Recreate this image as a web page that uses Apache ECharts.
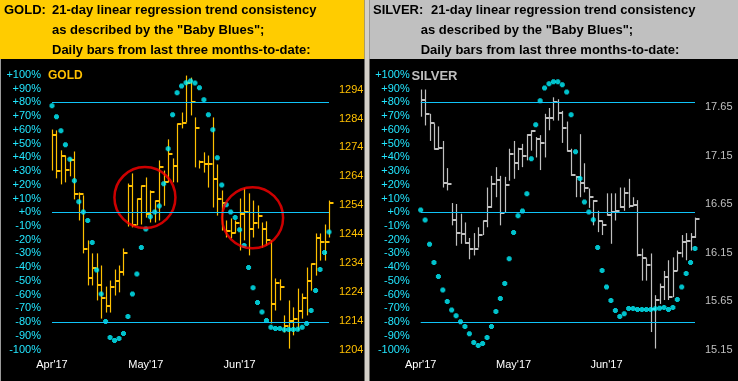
<!DOCTYPE html>
<html><head><meta charset="utf-8">
<script src="https://cdn.jsdelivr.net/npm/echarts@6/dist/echarts.min.js"></script>
<style>html,body{margin:0;padding:0;background:#000;}#c{width:738px;height:381px;}</style>
</head><body><div id="c"></div>
<script>
// ---------- data ----------
const monthLabels = ["Apr'17", "May'17", "Jun'17"];
const monthLabelIdx = [0, 21, 42];
const bandLevels = [80, 0, -80];
const goldPriceTicks = [1204, 1214, 1224, 1234, 1244, 1254, 1264, 1274, 1284, 1294];
const silverPriceTicks = [15.15, 15.65, 16.15, 16.65, 17.15, 17.65];

const goldBlues = [77.6,69.6,59.4,49.2,38.6,23.0,7.7,0.2,-6.1,-22.1,
  -42.0,-59.5,-79.6,-91.2,-93.4,-92.0,-88.3,-76.0,-59.5,-44.9,
  -25.7,-12.2,-3.2,0.2,4.6,20.8,46.3,71.0,87.0,91.9,
  94.3,95.6,94.1,90.7,82.0,71.0,60.1,39.7,19.9,5.5,
  0.2,-3.9,-12.7,-24.3,-40.3,-55.1,-65.8,-72.6,-78.9,-83.7,
  -84.7,-84.7,-85.7,-85.5,-85.5,-85.2,-83.7,-81.1,-71.6,-57.1,
  -41.8,-29.4,-14.3];
const goldHigh = [1280.2,1279.9,1273.0,1271.2,1270.2,1272.6,1258.4,1257.4,1241.8,1237.3,
  1237.3,1233.1,1225.8,1227.9,1231.7,1233.1,1239.0,1261.5,1265.0,1256.3,
  1260.8,1263.6,1259.1,1255.6,1269.5,1266.0,1276.8,1270.2,1282.3,1286.1,
  1298.9,1298.2,1284.4,1269.5,1272.3,1271.2,1284.4,1268.1,1259.1,1248.7,
  1249.4,1248.7,1256.3,1259.8,1258.1,1255.6,1253.9,1248.0,1248.4,1241.8,
  1228.6,1228.3,1215.8,1221.0,1218.6,1225.1,1223.4,1232.4,1233.8,1244.2,
  1244.2,1247.3,1255.6];
const goldLow = [1266.0,1263.3,1261.2,1261.9,1264.0,1256.0,1248.7,1237.3,1226.2,1226.2,
  1221.0,1214.7,1216.8,1216.8,1222.7,1223.8,1229.6,1246.6,1246.3,1247.0,
  1247.3,1249.7,1248.0,1248.0,1248.7,1253.8,1261.9,1261.9,1261.9,1280.6,
  1282.7,1285.1,1267.1,1266.7,1265.3,1260.1,1253.2,1250.4,1245.2,1242.8,
  1242.5,1244.2,1238.3,1241.8,1236.6,1242.8,1245.9,1239.3,1240.0,1213.0,
  1217.5,1221.0,1209.9,1204.3,1208.9,1210.6,1214.7,1215.8,1224.4,1229.6,
  1234.8,1234.8,1242.8];
const goldClose = [1278.2,1265.7,1270.9,1266.3,1269.5,1257.7,1257.7,1238.7,1228.6,1232.1,
  1226.2,1221.7,1219.2,1225.5,1227.9,1230.7,1237.3,1260.8,1247.3,1256.0,
  1260.5,1251.1,1258.7,1255.3,1267.1,1261.9,1271.9,1267.4,1282.0,1282.3,
  1296.5,1289.6,1280.6,1268.8,1268.1,1268.1,1262.9,1256.0,1254.6,1245.2,
  1244.2,1247.7,1251.1,1251.5,1245.6,1247.7,1250.1,1245.6,1241.8,1219.9,
  1226.9,1225.5,1212.0,1214.0,1214.7,1217.5,1221.7,1227.9,1233.5,1242.5,
  1241.1,1241.1,1254.6];
const goldCircles = [[20.8, 10.7], [44.9, -4.0]];

const silverBlues = [1.7,-5.6,-23.3,-36.7,-46.9,-56.6,-65.1,-71.2,-75.5,-79.8,
  -83.3,-88.6,-94.9,-97.1,-95.6,-91.3,-83.3,-72.3,-62.9,-52.0,
  -33.8,-14.8,-2.5,0.9,13.5,39.0,63.8,81.2,90.5,93.6,
  95.0,95.0,92.9,87.6,71.0,44.1,24.5,7.5,0.2,-5.4,
  -25.7,-42.5,-54.4,-64.3,-71.6,-76.0,-74.0,-70.2,-70.2,-70.9,
  -70.9,-70.9,-70.9,-70.4,-69.9,-69.4,-70.9,-69.4,-63.6,-54.4,
  -44.7,-36.7,-26.5];
const silverHigh = [17.83,17.83,17.58,17.48,17.45,17.30,17.02,16.66,16.65,16.55,
  16.46,16.30,16.35,16.41,16.48,16.82,16.94,17.03,16.94,16.93,
  17.22,17.30,17.23,17.27,17.37,17.41,17.34,17.36,17.58,17.64,
  17.75,17.73,17.61,17.50,17.22,16.94,17.37,17.07,16.81,16.69,
  16.58,16.48,16.76,16.76,16.76,16.82,16.82,16.91,16.72,16.69,
  16.19,16.09,16.14,15.71,15.83,15.96,16.07,16.10,16.17,16.33,
  16.35,16.35,16.51];
const silverLow = [17.55,17.46,17.30,17.21,17.21,16.82,16.79,16.43,16.22,16.24,
  16.24,16.08,16.12,16.20,16.33,16.41,16.61,16.72,16.43,16.56,
  16.89,16.91,17.00,17.03,17.10,17.20,17.13,17.00,17.13,17.41,
  17.51,17.51,17.28,17.19,16.94,16.72,16.72,16.77,16.61,16.43,
  16.36,16.33,16.53,16.24,16.48,16.61,16.58,16.61,16.63,16.11,
  15.86,15.86,15.33,15.16,15.62,15.66,15.66,15.69,15.96,16.10,
  16.07,16.17,16.30];
const silverClose = [17.72,17.58,17.48,17.22,17.23,16.87,16.86,16.49,16.35,16.34,
  16.25,16.19,16.19,16.33,16.47,16.62,16.86,16.90,16.56,16.85,
  17.17,17.07,17.22,17.15,17.36,17.40,17.32,17.28,17.54,17.54,
  17.70,17.59,17.43,17.20,16.95,16.93,16.87,16.82,16.72,16.68,
  16.47,16.43,16.54,16.57,16.58,16.62,16.76,16.63,16.64,16.12,
  16.09,16.02,15.57,15.66,15.79,15.90,15.69,15.96,16.15,16.26,
  16.27,16.31,16.50];

// ---------- chart ----------
const FONT = '"Liberation Sans", Arial, sans-serif';
const CYAN = '#00f2ff';
const LABEL_CYAN = '#22e6ff';
const LINE_BLUE = '#10c4f8';
const GOLD = '#ffc000';
const SILVER = '#c0c0c0';
const DOT = 'path://M1,0H4V1H5V4H4V5H1V4H0V1H1Z';

function pctFmt(v) { return (v > 0 ? '+' + v : (v === 0 ? '+0' : '' + v)) + '%'; }

function hlc(h, l, c) { return h.map((v, i) => [i, v, l[i], c[i]]); }

function renderHLC(params, api) {
  const x = api.value(0);
  const hi = api.coord([x, api.value(1)]);
  const lo = api.coord([x, api.value(2)]);
  const cl = api.coord([x, api.value(3)]);
  const px = Math.round(hi[0]) + 0.5;
  const cy = Math.round(cl[1]);
  const color = api.visual('color');
  return {
    type: 'group',
    children: [
      { type: 'line', shape: { x1: px, y1: hi[1], x2: px, y2: lo[1] }, style: { stroke: color, lineWidth: 1.2 } },
      { type: 'line', shape: { x1: px, y1: cy, x2: px + 4, y2: cy }, style: { stroke: color, lineWidth: 2 } }
    ]
  };
}

function xAxisFor(gi) {
  return {
    type: 'value', gridIndex: gi, min: 0, max: 62,
    axisLine: { show: false }, axisTick: { show: false }, splitLine: { show: false },
    axisLabel: {
      customValues: monthLabelIdx, margin: 10, color: '#ffffff', fontSize: 11, fontFamily: FONT,
      formatter: v => monthLabels[monthLabelIdx.indexOf(v)] || ''
    }
  };
}
function pctAxis(gi) {
  return {
    type: 'value', gridIndex: gi, position: 'left', min: -100, max: 100, interval: 10,
    axisLine: { show: false }, axisTick: { show: false }, splitLine: { show: false },
    axisLabel: { margin: 11, color: LABEL_CYAN, fontSize: 11, fontFamily: FONT, formatter: pctFmt }
  };
}
function priceAxis(gi, min, max, ticks, color, dec) {
  return {
    type: 'value', gridIndex: gi, position: 'right', min: min, max: max,
    axisLine: { show: false }, axisTick: { show: false }, splitLine: { show: false },
    axisLabel: {
      customValues: ticks, margin: 10, color: color, fontSize: 11, fontFamily: FONT,
      formatter: v => v.toFixed(dec)
    }
  };
}

const bandMark = {
  silent: true, symbol: ['none', 'none'], label: { show: false },
  lineStyle: { color: LINE_BLUE, width: 1.2, type: 'solid' },
  data: bandLevels.map(v => ({ yAxis: v }))
};

const chart = echarts.init(document.getElementById('c'), null, { renderer: 'canvas' });
chart.setOption({
  backgroundColor: '#000',
  animation: false,
  grid: [
    { left: 52, right: 409, top: 75, bottom: 31.5, outerBoundsMode: 'none' },
    { left: 420.7, right: 43, top: 75, bottom: 31.5, outerBoundsMode: 'none' }
  ],
  xAxis: [xAxisFor(0), xAxisFor(1)],
  yAxis: [
    pctAxis(0),
    priceAxis(0, 1204, 1299.1, goldPriceTicks, GOLD, 0),
    pctAxis(1),
    priceAxis(1, 15.15, 17.98, silverPriceTicks, SILVER, 2)
  ],
  graphic: [
    { type: 'rect', shape: { x: 0, y: 0, width: 364.5, height: 59 }, style: { fill: '#ffcc00' }, z: 10 },
    { type: 'rect', shape: { x: 369.5, y: 0, width: 369, height: 59 }, style: { fill: '#c0c0c0' }, z: 10 },
    { type: 'rect', shape: { x: 364.5, y: 0, width: 5, height: 381 }, style: { fill: '#d4d0c8' }, z: 10 },
    { type: 'rect', shape: { x: 0, y: 59, width: 1, height: 322 }, style: { fill: '#9a9a9a' }, z: 10 },
    { type: 'text', x: 4, y: 10, z: 11, style: { text: 'GOLD:', fill: '#000', font: 'bold 13px ' + FONT, verticalAlign: 'middle' } },
    { type: 'text', x: 52, y: 10, z: 11, style: { text: '21-day linear regression trend consistency', fill: '#000', font: 'bold 13px ' + FONT, verticalAlign: 'middle' } },
    { type: 'text', x: 52, y: 30, z: 11, style: { text: 'as described by the "Baby Blues";', fill: '#000', font: 'bold 13px ' + FONT, verticalAlign: 'middle' } },
    { type: 'text', x: 52, y: 50, z: 11, style: { text: 'Daily bars from last three months-to-date:', fill: '#000', font: 'bold 13px ' + FONT, verticalAlign: 'middle' } },
    { type: 'text', x: 373, y: 10, z: 11, style: { text: 'SILVER:', fill: '#000', font: 'bold 13px ' + FONT, verticalAlign: 'middle' } },
    { type: 'text', x: 431, y: 10, z: 11, style: { text: '21-day linear regression trend consistency', fill: '#000', font: 'bold 13px ' + FONT, verticalAlign: 'middle' } },
    { type: 'text', x: 420.7, y: 30, z: 11, style: { text: 'as described by the "Baby Blues";', fill: '#000', font: 'bold 13px ' + FONT, verticalAlign: 'middle' } },
    { type: 'text', x: 420.7, y: 50, z: 11, style: { text: 'Daily bars from last three months-to-date:', fill: '#000', font: 'bold 13px ' + FONT, verticalAlign: 'middle' } },
    { type: 'text', x: 48, y: 76, z: 11, style: { text: 'GOLD', fill: GOLD, font: 'bold 12px ' + FONT, verticalAlign: 'middle' } },
    { type: 'text', x: 411.5, y: 76, z: 11, style: { text: 'SILVER', fill: SILVER, font: 'bold 13px ' + FONT, verticalAlign: 'middle' } }
  ],
  series: [
    { name: 'goldBands', type: 'line', xAxisIndex: 0, yAxisIndex: 0, data: [], markLine: bandMark, z: 1 },
    { name: 'goldBars', type: 'custom', xAxisIndex: 0, yAxisIndex: 1, renderItem: renderHLC,
      itemStyle: { color: GOLD }, encode: { x: 0, y: [1, 2, 3] }, data: hlc(goldHigh, goldLow, goldClose), z: 2 },
    { name: 'goldBlues', type: 'scatter', xAxisIndex: 0, yAxisIndex: 0, symbol: DOT, symbolSize: 5,
      itemStyle: { color: CYAN }, data: goldBlues.map((v, i) => [i, v]), z: 3 },
    { name: 'goldCircles', type: 'scatter', xAxisIndex: 0, yAxisIndex: 0, symbol: 'circle', symbolSize: 61,
      itemStyle: { color: 'rgba(0,0,0,0)', borderColor: '#ff0000', borderWidth: 2.5 }, data: goldCircles, z: 4 },
    { name: 'silverBands', type: 'line', xAxisIndex: 1, yAxisIndex: 2, data: [], markLine: bandMark, z: 1 },
    { name: 'silverBars', type: 'custom', xAxisIndex: 1, yAxisIndex: 3, renderItem: renderHLC,
      itemStyle: { color: SILVER }, encode: { x: 0, y: [1, 2, 3] }, data: hlc(silverHigh, silverLow, silverClose), z: 2 },
    { name: 'silverBlues', type: 'scatter', xAxisIndex: 1, yAxisIndex: 2, symbol: DOT, symbolSize: 5,
      itemStyle: { color: CYAN }, data: silverBlues.map((v, i) => [i, v]), z: 3 }
  ]
});
</script>
</body></html>
